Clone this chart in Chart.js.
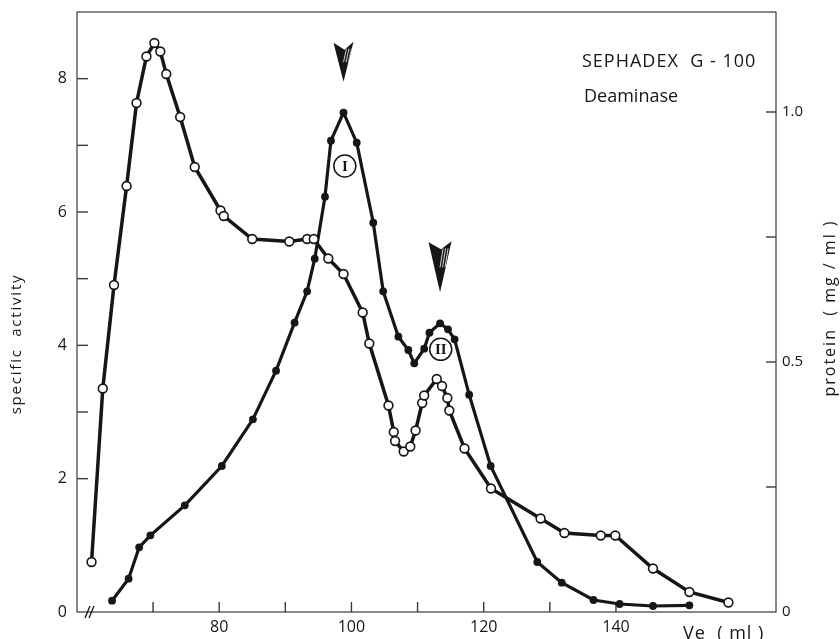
<!DOCTYPE html>
<html>
<head>
<meta charset="utf-8">
<script src="https://cdn.jsdelivr.net/npm/chart.js@4.4.1/dist/chart.umd.min.js"></script>
<style>
  html, body { margin: 0; padding: 0; background: #fff; }
  #wrap { width: 840px; height: 639px; }
</style>
</head>
<body>
<div id="wrap"><canvas id="chart" width="840" height="639"></canvas></div>
<script>
// Sephadex G-100 elution, open circles = protein (mg/ml), filled = specific activity
const proteinVe = [60.7, 62.4, 64.1, 66.0, 67.5, 69.0, 70.2, 71.1, 72.0, 74.1, 76.3, 80.2, 80.7,
  85.0, 90.6, 93.3, 94.3, 96.5, 98.8, 101.7, 102.7, 105.6, 106.4, 106.6, 107.9, 108.9, 109.7,
  110.7, 111.0, 112.9, 113.7, 114.5, 114.8, 117.1, 121.1, 128.6, 132.2, 137.7, 139.9, 145.6,
  151.1, 157.0];
const proteinMg = [0.100, 0.447, 0.654, 0.852, 1.018, 1.111, 1.138, 1.121, 1.076, 0.990, 0.890,
  0.803, 0.792, 0.746, 0.741, 0.746, 0.746, 0.707, 0.676, 0.599, 0.537, 0.413, 0.360, 0.342,
  0.321, 0.331, 0.363, 0.418, 0.433, 0.466, 0.452, 0.428, 0.403, 0.327, 0.247, 0.187, 0.158,
  0.153, 0.153, 0.087, 0.040, 0.019];

const activityVe = [63.8, 66.3, 67.9, 69.6, 74.8, 80.4, 85.1, 88.6, 91.4, 93.3, 94.45, 96.0, 96.9,
  98.8, 100.8, 103.3, 104.8, 107.1, 108.6, 109.5, 111.0, 111.8, 113.4, 114.6, 115.6, 117.8,
  121.05, 128.1, 131.8, 136.6, 140.55, 145.6, 151.1];
const activitySpec = [0.17, 0.50, 0.97, 1.15, 1.60, 2.19, 2.89, 3.62, 4.34, 4.81, 5.30, 6.23, 7.07,
  7.49, 7.04, 5.84, 4.81, 4.13, 3.93, 3.73, 3.95, 4.19, 4.33, 4.24, 4.09, 3.26, 2.19, 0.75, 0.44,
  0.18, 0.12, 0.09, 0.10];

const xTickMarks = [70, 80, 90, 100, 110, 120, 130, 140];
const xTickLabels = [80, 100, 120, 140];
const leftTickMarks = [2, 3, 4, 5, 6, 7, 8];
const leftTickLabels = [0, 2, 4, 6, 8];
const rightTickMarks = [0.25, 0.5, 0.75, 1.0];
const rightTickLabels = [0, 0.5, 1.0];

// peaks I and II: arrows sit over these activity points
const peakIndex = [13, 22];
const peakNames = ["I", "II"];
const peakNameVe = [99.0, 113.5];
const peakNameLevel = [6.69, 3.94];

const ink = "#161616";
const faint = "#3a3a3a";
const font = "'Open Sans', 'DejaVu Sans', sans-serif";

function line(ctx, x1, y1, x2, y2) {
  ctx.beginPath();
  ctx.moveTo(x1, y1);
  ctx.lineTo(x2, y2);
  ctx.stroke();
}

function drawArrow(ctx, px, tipY, w, h) {
  ctx.save();
  ctx.beginPath();
  ctx.moveTo(px, tipY);
  ctx.lineTo(px - w / 2, tipY - h);
  ctx.lineTo(px + 1, tipY - h + 7);
  ctx.lineTo(px + w / 2, tipY - h - 1);
  ctx.closePath();
  ctx.fillStyle = ink;
  ctx.fill();
  ctx.clip();
  ctx.strokeStyle = "#fff";
  ctx.lineWidth = 0.8;
  for (let k = 0; k < 3; k++) {
    line(ctx, px + k * 2.5, tipY - h * 0.5, px + 3 + k * 2.5, tipY - h + 6);
  }
  ctx.restore();
}

function noPad(s) {
  s.paddingTop = 0;
  s.paddingBottom = 0;
  s.paddingLeft = 0;
  s.paddingRight = 0;
}

const decorations = {
  id: "decorations",
  beforeDatasetsDraw(chart) {
    const { ctx, chartArea: a, scales } = chart;
    ctx.save();
    ctx.strokeStyle = faint;
    ctx.lineWidth = 1.2;
    ctx.strokeRect(a.left, a.top, a.right - a.left, a.bottom - a.top);
    ctx.lineWidth = 1.4;
    leftTickMarks.forEach(v => {
      const py = scales.y.getPixelForValue(v);
      line(ctx, a.left, py, a.left + 11, py);
    });
    rightTickMarks.forEach(v => {
      const py = scales.y2.getPixelForValue(v);
      line(ctx, a.right - 10, py, a.right, py);
    });
    xTickMarks.forEach(v => {
      const px = scales.x.getPixelForValue(v);
      line(ctx, px, a.bottom, px, a.bottom - 10);
    });
    // axis break
    ctx.strokeStyle = ink;
    ctx.lineWidth = 1.3;
    line(ctx, a.left + 8, a.bottom + 6, a.left + 13, a.bottom - 6);
    line(ctx, a.left + 12, a.bottom + 6, a.left + 17, a.bottom - 6);
    ctx.restore();
  },
  afterDatasetsDraw(chart) {
    const { ctx, chartArea: a, scales } = chart;
    ctx.save();
    peakIndex.forEach((idx, k) => {
      const px = scales.x.getPixelForValue(activityVe[idx]);
      const py = scales.y.getPixelForValue(activitySpec[idx]);
      drawArrow(ctx, px, py - 31, k === 0 ? 20 : 23, k === 0 ? 39 : 50);
    });
    peakNames.forEach((name, k) => {
      const px = scales.x.getPixelForValue(peakNameVe[k]);
      const py = scales.y.getPixelForValue(peakNameLevel[k]);
      ctx.beginPath();
      ctx.arc(px, py, 11, 0, Math.PI * 2);
      ctx.fillStyle = "#fff";
      ctx.fill();
      ctx.strokeStyle = ink;
      ctx.lineWidth = 1.5;
      ctx.stroke();
      ctx.fillStyle = ink;
      ctx.font = "bold 15px 'Liberation Serif', serif";
      ctx.textAlign = "center";
      ctx.textBaseline = "middle";
      ctx.fillText(name, px, py + 1);
    });
    ctx.fillStyle = ink;
    ctx.textAlign = "left";
    ctx.textBaseline = "alphabetic";
    ctx.font = "18px " + font;
    ctx.letterSpacing = "1px";
    ctx.fillText("SEPHADEX  G - 100", a.left + 505, a.top + 55);
    ctx.letterSpacing = "0px";
    ctx.fillText("Deaminase", a.left + 507, a.top + 90);
    ctx.letterSpacing = "1px";
    ctx.fillText("Ve  ( ml )", a.left + 606, chart.height);

    // axis titles, both read bottom to top
    const mid = (a.top + a.bottom) / 2;
    ctx.textAlign = "center";
    ctx.textBaseline = "middle";
    ctx.save();
    ctx.translate(17, mid + 32);
    ctx.rotate(-Math.PI / 2);
    ctx.font = "15px " + font;
    ctx.letterSpacing = "1.8px";
    ctx.fillText("specific  activity", 0, 0);
    ctx.restore();
    ctx.translate(chart.width - 10, mid - 4);
    ctx.rotate(-Math.PI / 2);
    ctx.font = "16px " + font;
    ctx.letterSpacing = "2px";
    ctx.fillText("protein  ( mg / ml )", 0, 0);
    ctx.restore();
  }
};

new Chart(document.getElementById("chart"), {
  type: "line",
  data: {
    datasets: [
      {
        label: "protein",
        data: proteinVe.map((v, i) => ({ x: v, y: proteinMg[i] })),
        yAxisID: "y2",
        borderColor: ink,
        borderWidth: 3.5,
        pointRadius: 4.4,
        pointBackgroundColor: "#fff",
        pointBorderColor: ink,
        pointBorderWidth: 1.6,
        tension: 0
      },
      {
        label: "specific activity",
        data: activityVe.map((v, i) => ({ x: v, y: activitySpec[i] })),
        yAxisID: "y",
        borderColor: ink,
        borderWidth: 3.2,
        pointRadius: 3.9,
        pointBackgroundColor: ink,
        pointBorderColor: ink,
        pointBorderWidth: 0,
        tension: 0
      }
    ]
  },
  options: {
    responsive: false,
    animation: false,
    layout: { padding: { top: 12, left: 0, right: 0, bottom: 0 } },
    plugins: { legend: { display: false }, tooltip: { enabled: false } },
    scales: {
      x: {
        type: "linear",
        min: 58.5,
        max: 164.2,
        afterBuildTicks: s => { s.ticks = xTickLabels.map(v => ({ value: v })); },
        afterFit: s => { s.height = 27; noPad(s); },
        grid: { display: false, drawTicks: false },
        border: { display: false },
        ticks: { color: ink, padding: 6, maxRotation: 0, autoSkip: false, font: { family: font, size: 16 } }
      },
      y: {
        position: "left",
        min: 0,
        max: 9,
        afterBuildTicks: s => { s.ticks = leftTickLabels.map(v => ({ value: v })); },
        afterFit: s => { s.width = 77; noPad(s); },
        grid: { display: false, drawTicks: false },
        border: { display: false },
        ticks: { color: ink, padding: 10, font: { family: font, size: 16 } }
      },
      y2: {
        position: "right",
        min: 0,
        max: 1.2,
        afterBuildTicks: s => { s.ticks = rightTickLabels.map(v => ({ value: v })); },
        afterFit: s => { s.width = 64; noPad(s); },
        grid: { display: false, drawTicks: false },
        border: { display: false },
        ticks: { color: ink, padding: 6, font: { family: font, size: 15 }, callback: v => v === 0 ? "0" : v.toFixed(1) }
      }
    }
  },
  plugins: [decorations]
});
</script>
</body>
</html>
